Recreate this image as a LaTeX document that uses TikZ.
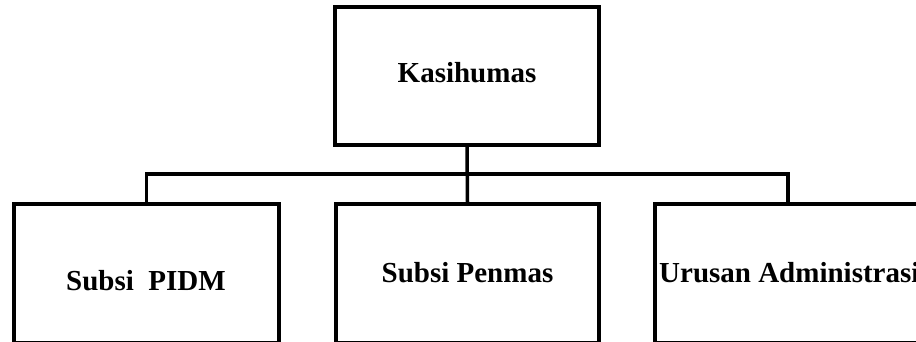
\documentclass[tikz,border=0pt]{standalone}
\usepackage{fontspec}
\setmainfont{Liberation Serif}
\begin{document}
\begin{tikzpicture}[x=1pt,y=-1pt,
  box/.style={draw=black,line width=3.5pt,inner sep=0pt,minimum width=265pt,minimum height=139pt},
  lbl/.style={inner sep=0pt,font=\fontsize{29}{34}\selectfont\bfseries},
  conn/.style={draw=black,line width=3.5pt}]
\clip (0,0) rectangle (916,342);
\node[box,minimum width=264pt,minimum height=138pt] (kbox) at (467,76) {};
\node[box] (lbox) at (146.5,273.5) {};
\node[box,minimum width=263pt] (mbox) at (467.5,273.5) {};
\node[box,minimum width=266pt] (rbox) at (788,273.5) {};
\node[lbl,anchor=base] (ktxt) at (467,83) {Kasihumas};
\node[lbl,anchor=base] (ltxt) at (146,290) {Subsi\ \ PIDM};
\node[lbl,anchor=base] (mtxt) at (467.5,282) {Subsi Penmas};
\node[lbl,anchor=base west] (rtxt) at (659,282) {Urusan Administrasi};
\coordinate (bus) at (467,174);
\draw[conn] (kbox.south) -- (mbox.north);
\draw[conn] (lbox.north) |- (bus) -| (rbox.north);
\end{tikzpicture}
\end{document}
